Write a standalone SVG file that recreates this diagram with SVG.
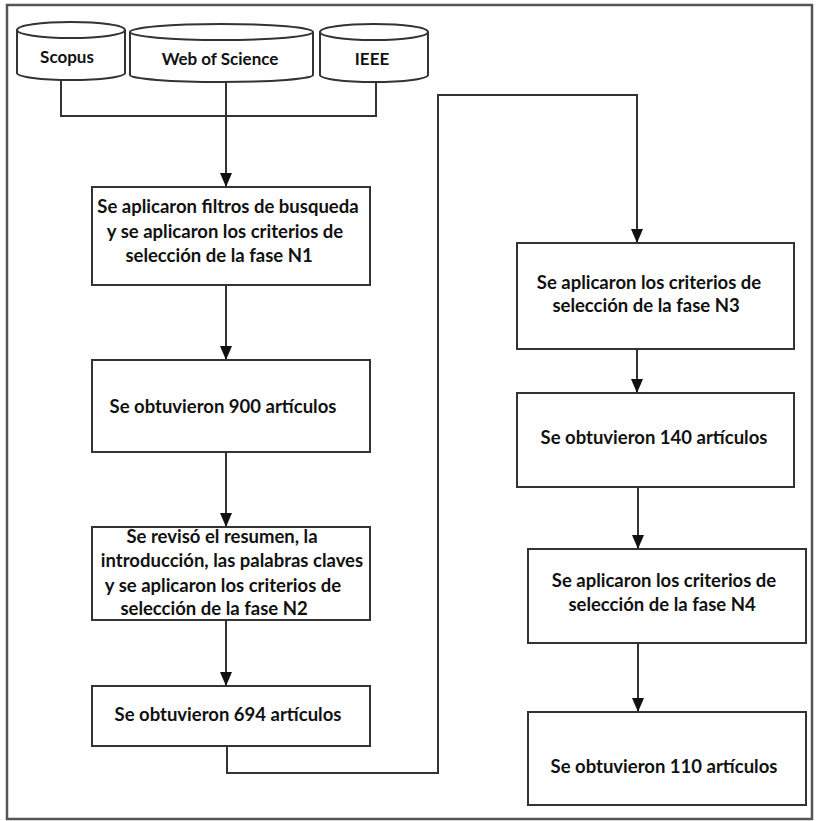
<svg xmlns="http://www.w3.org/2000/svg" width="816" height="821" viewBox="0 0 816 821">
<defs>
<marker id="arr" markerUnits="userSpaceOnUse" markerWidth="14" markerHeight="12" viewBox="0 0 14 12" refX="14" refY="6" orient="auto">
<path d="M0,0 L14,6 L0,12 Z" fill="#111"/>
</marker>
<style>
.box{fill:#fff;stroke:#333;stroke-width:2}
.cyl{fill:#fff;stroke:#333;stroke-width:2}
.t{font-family:Lato,"Liberation Sans",sans-serif;font-weight:bold;font-size:18.5px;fill:#111;text-anchor:middle}
.s{font-size:17px}
.c{stroke:#333;stroke-width:2;fill:none}
</style>
</defs>
<rect x="7" y="5" width="805" height="814" fill="#fff" stroke="#555" stroke-width="2.5"/>
<g id="connectors">
<path class="c" d="M61,80 V116 H376 V82"/>
<path class="c" d="M226,82 V187" marker-end="url(#arr)"/>
<path class="c" d="M226,285 V360" marker-end="url(#arr)"/>
<path class="c" d="M226,452 V527" marker-end="url(#arr)"/>
<path class="c" d="M226,620 V686" marker-end="url(#arr)"/>
<path class="c" d="M227,746 V773 H438 V95 H637 V243" marker-end="url(#arr)"/>
<path class="c" d="M637,349 V393" marker-end="url(#arr)"/>
<path class="c" d="M638,487 V549" marker-end="url(#arr)"/>
<path class="c" d="M638,643 V712" marker-end="url(#arr)"/>
</g>
<g id="scopus">
<path class="cyl" d="M17,30 V73 A54,7 0 0 0 125,73 V30"/>
<ellipse class="cyl" cx="71" cy="30" rx="54" ry="8"/>
<text class="t s" x="67" y="63">Scopus</text>
</g>
<g id="wos">
<path class="cyl" d="M130,32 V75 A91.5,7 0 0 0 313,75 V32"/>
<ellipse class="cyl" cx="221.5" cy="32" rx="91.5" ry="8"/>
<text class="t s" x="220" y="65">Web of Science</text>
</g>
<g id="ieee">
<path class="cyl" d="M320,32 V75 A54,7 0 0 0 428,75 V32"/>
<ellipse class="cyl" cx="374" cy="32" rx="54" ry="8"/>
<text class="t s" x="372" y="65">IEEE</text>
</g>
<g id="n1">
<rect class="box" x="92" y="187" width="278" height="98"/>
<text class="t" x="228" y="213">Se aplicaron filtros de busqueda</text>
<text class="t" x="225" y="238">y se aplicaron los criterios de</text>
<text class="t" x="219" y="262">selección de la fase N1</text>
</g>
<g id="n2">
<rect class="box" x="92" y="360" width="278" height="92"/>
<text class="t" x="223" y="413">Se obtuvieron 900 artículos</text>
</g>
<g id="n3">
<rect class="box" x="92" y="527" width="278" height="93"/>
<text class="t" x="222" y="543">Se revisó el resumen, la</text>
<text class="t" x="232" y="567">introducción, las palabras claves</text>
<text class="t" x="223" y="592">y se aplicaron los criterios de</text>
<text class="t" x="214" y="615">selección de la fase N2</text>
</g>
<g id="n4">
<rect class="box" x="92" y="686" width="278" height="60"/>
<text class="t" x="228" y="721">Se obtuvieron 694 artículos</text>
</g>
<g id="n5">
<rect class="box" x="517" y="243" width="277" height="106"/>
<text class="t" x="649" y="289">Se aplicaron los criterios de</text>
<text class="t" x="646" y="312">selección de la fase N3</text>
</g>
<g id="n6">
<rect class="box" x="517" y="393" width="277" height="94"/>
<text class="t" x="654" y="444">Se obtuvieron 140 artículos</text>
</g>
<g id="n7">
<rect class="box" x="528" y="549" width="278" height="94"/>
<text class="t" x="664" y="587">Se aplicaron los criterios de</text>
<text class="t" x="662" y="611">selección de la fase N4</text>
</g>
<g id="n8">
<rect class="box" x="528" y="712" width="278" height="93"/>
<text class="t" x="664" y="773">Se obtuvieron 110 artículos</text>
</g>
</svg>
